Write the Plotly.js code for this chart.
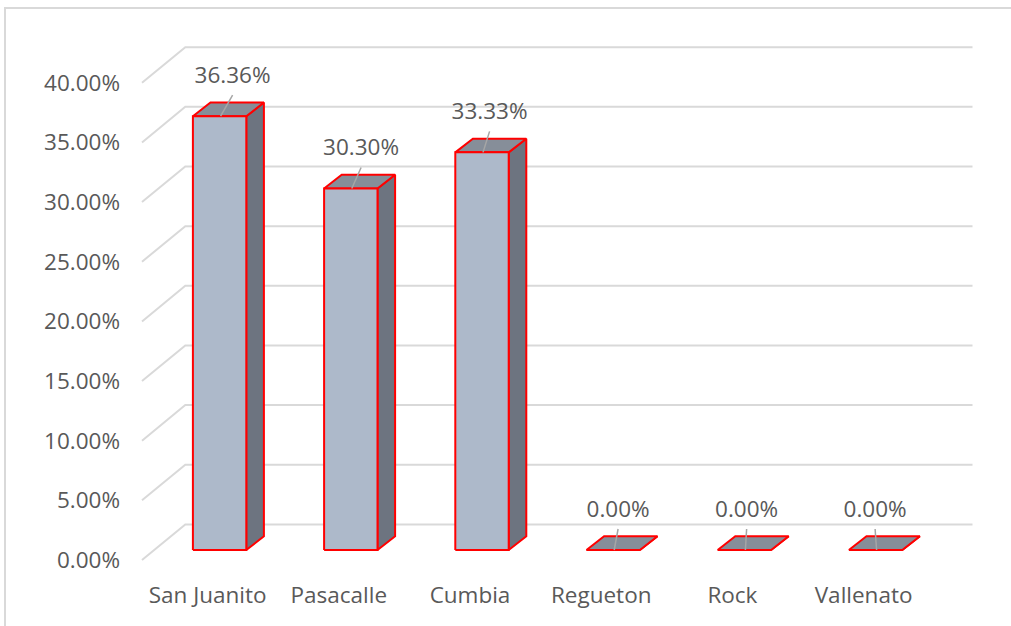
<!DOCTYPE html>
<html>
<head>
<meta charset="utf-8">
<script src="https://cdn.plot.ly/plotly-3.0.1.min.js"></script>
<style>
  html, body { margin: 0; padding: 0; width: 1011px; height: 626px; overflow: hidden; background: #fff; }
  #chart { position: absolute; left: 0; top: 0; width: 1011px; height: 626px; }
  #frame { position: absolute; left: 4px; top: 7px; width: 2000px; height: 2000px;
           border-left: 2px solid #d9d9d9; border-top: 2px solid #d9d9d9; pointer-events: none; }
</style>
</head>
<body>
<div id="chart"></div>
<div id="frame"></div>
<script>
// ---- data ----
const categories = ['San Juanito', 'Pasacalle', 'Cumbia', 'Regueton', 'Rock', 'Vallenato'];
const values = [36.36, 30.30, 33.33, 0.00, 0.00, 0.00];
const yTicks = [0, 5, 10, 15, 20, 25, 30, 35, 40];
const yTickLabels = yTicks.map(t => t.toFixed(2) + '%');

// ---- projection (pixel sizes converted to axis units) ----
const PX_X = 131.2;   // px per category unit
const PX_Y = 11.93;   // px per value unit
const ux = px => px / PX_X;
const uy = px => px / PX_Y;

const floorD = { x: ux(43.3), y: uy(35.6) };   // full floor depth
const barFront = { x: ux(12), y: uy(10) };     // bar front face offset
const barDepth = { x: ux(17.6), y: uy(13.7) }; // bar depth
const halfW = ux(26.7);

// gridlines (front-left diagonal + back wall)
const gx = [], gy = [];
yTicks.forEach(t => {
  gx.push(-0.5, -0.5 + floorD.x, categories.length - 0.5 + floorD.x, null);
  gy.push(t, t + floorD.y, t + floorD.y, null);
});

// bar faces
const fx = [], fy = [], sx = [], sy = [], tx = [], ty = [];
const lx = [], ly = [], labX = [], labY = [], labT = [];
values.forEach((v, i) => {
  const xl = i + barFront.x - halfW, xr = i + barFront.x + halfW;
  const y0 = barFront.y, y1 = v + barFront.y;
  fx.push(xl, xr, xr, xl, xl, null); fy.push(y0, y0, y1, y1, y0, null);
  sx.push(xr, xr + barDepth.x, xr + barDepth.x, xr, xr, null);
  sy.push(y0, y0 + barDepth.y, y1 + barDepth.y, y1, y0, null);
  tx.push(xl, xr, xr + barDepth.x, xl + barDepth.x, xl, null);
  ty.push(y1, y1, y1 + barDepth.y, y1 + barDepth.y, y1, null);
  const cx = i + barFront.x;
  const labx = cx + ux(13 - 2.7 * i), laby = y1 + uy(39);
  labX.push(labx); labY.push(laby); labT.push(v.toFixed(2) + '%');
  lx.push(cx + ux(1), labx, null); ly.push(y1, laby - uy(18), null);
});

const FONT = { family: 'Open Sans, Liberation Sans, sans-serif', size: 22.5, color: '#595959' };
const RED = { color: '#ff0000', width: 2 };

const traces = [
  { x: gx, y: gy, mode: 'lines', line: { color: '#d9d9d9', width: 2 }, hoverinfo: 'skip' },
  { x: sx, y: sy, mode: 'lines', fill: 'toself', fillcolor: '#6d7480', line: RED, hoverinfo: 'skip' },
  { x: tx, y: ty, mode: 'lines', fill: 'toself', fillcolor: '#868e99', line: RED, hoverinfo: 'skip' },
  { x: fx, y: fy, mode: 'lines', fill: 'toself', fillcolor: '#adb9ca', line: RED, hoverinfo: 'skip' },
  { x: lx, y: ly, mode: 'lines', line: { color: '#a6a6a6', width: 1.5 }, hoverinfo: 'skip' },
  { x: labX, y: labY, mode: 'text', text: labT, textposition: 'middle center',
    textfont: FONT, hoverinfo: 'skip', cliponaxis: false }
];

const L = 130, R = 11, T = 30, B = 56;
const W = 1011, H = 626;
const x0 = (L - 207.6) / PX_X, x1 = (W - R - 207.6) / PX_X;
const yBot = (560 - (H - B)) / PX_Y, yTop = (560 - T) / PX_Y;

const layout = {
  width: W, height: H,
  margin: { l: L, r: R, t: T, b: B },
  paper_bgcolor: '#ffffff', plot_bgcolor: '#ffffff',
  showlegend: false, hovermode: false,
  font: FONT,
  xaxis: { range: [x0, x1], showgrid: false, zeroline: false, showline: false, ticks: '',
           tickvals: categories.map((c, i) => i), ticktext: categories,
           tickfont: FONT, ticklabelstandoff: 9, fixedrange: true },
  yaxis: { range: [yBot, yTop], showgrid: false, zeroline: false, showline: false, ticks: '',
           tickvals: yTicks, ticktext: yTickLabels,
           tickfont: FONT, ticklabelstandoff: 9, fixedrange: true }
};

Plotly.newPlot('chart', traces, layout, { staticPlot: true, displayModeBar: false });
</script>
</body>
</html>
